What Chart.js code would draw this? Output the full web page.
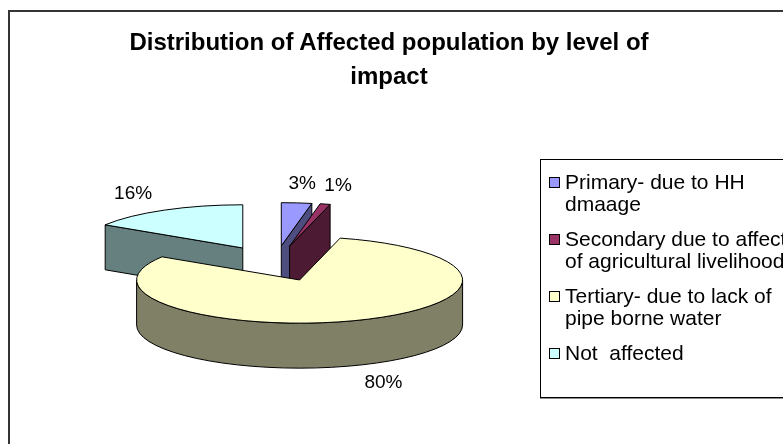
<!DOCTYPE html>
<html>
<head>
<meta charset="utf-8">
<script src="https://cdn.jsdelivr.net/npm/chart.js@4.4.1/dist/chart.umd.min.js"></script>
<style>
  body { margin: 0; width: 783px; height: 444px; overflow: hidden; background: #fff;
         font-family: Arial, "Liberation Sans", sans-serif; color: #000; }
  #frame { position: absolute; left: 8px; top: 10px; width: 820px; height: 480px;
           border: 2px solid #353535; box-sizing: border-box; }
  #pie { position: absolute; left: 0; top: 0; }
  #title { position: absolute; left: 0; top: 25px; width: 778px; text-align: center;
           font-weight: bold; font-size: 24px; line-height: 34px; }
  #legend { position: absolute; left: 540px; top: 159px; width: 300px; height: 237px;
            border: 1px solid #000; box-shadow: 0 1px 0 #8c8c8c; background: #fff; }
  .item { position: absolute; left: 0; font-size: 21px; line-height: 22px; }
  .item i { position: absolute; left: 8px; top: 6px; width: 9px; height: 9px;
            border: 1px solid #000; }
  .item span { position: absolute; left: 24px; top: 0; width: 240px; white-space: pre-wrap; }
</style>
</head>
<body>
<div id="frame"></div>
<canvas id="pie" width="783" height="444"></canvas>
<div id="title"></div>
<div id="legend"></div>
<script>
// chart values
const chartTitle = ['Distribution of Affected population by level of', 'impact'];
const categories = [
  'Primary- due to HH dmaage',
  'Secondary due to affect of agricultural livelihood',
  'Tertiary- due to lack of pipe borne water',
  'Not  affected'
];
const shares = [3, 1, 80, 16];   // percent of affected population

const topColors = ['#9999FF', '#993366', '#FFFFCC', '#CCFFFF'];
const sideColors = ['#4D4D80', '#4D1A33', '#808066', '#668080'];

// title + legend
document.getElementById('title').innerHTML = chartTitle.join('<br>');
const legendTops = [11, 68, 125, 182];
const legend = document.getElementById('legend');
categories.forEach((name, i) => {
  const el = document.createElement('div');
  el.className = 'item';
  el.style.top = legendTops[i] + 'px';
  el.innerHTML = '<i style="background:' + topColors[i] + '"></i><span></span>';
  el.querySelector('span').textContent = name;
  legend.appendChild(el);
});

// draws the pie as an exploded 3D disc, using the arcs Chart.js laid out
const pie3d = {
  id: 'pie3d',
  beforeDatasetsDraw(chart, args, opts) {
    const ctx = chart.ctx;
    const ds = chart.data.datasets[0];
    const arcs = chart.getDatasetMeta(0).data;
    const total = ds.data.reduce((a, b) => a + b, 0);
    const rx = arcs[0].outerRadius;
    const ry = rx * opts.tilt;
    const depth = rx * opts.depth;
    const boom = rx * opts.explode;

    const slices = arcs.map((a, i) => {
      const mid = (a.startAngle + a.endAngle) / 2;
      return {
        i, s: a.startAngle, e: a.endAngle, mid,
        x: a.x + Math.cos(mid) * boom,
        y: a.y + Math.sin(mid) * boom * opts.tilt
      };
    });

    ctx.save();
    ctx.lineWidth = 1;
    ctx.strokeStyle = '#000';
    ctx.lineJoin = 'round';

    const face = (sl, t) => {
      const ox = sl.x + rx * Math.cos(t), oy = sl.y + ry * Math.sin(t);
      ctx.beginPath();
      ctx.moveTo(sl.x, sl.y);
      ctx.lineTo(ox, oy);
      ctx.lineTo(ox, oy + depth);
      ctx.lineTo(sl.x, sl.y + depth);
      ctx.closePath();
      ctx.fillStyle = opts.sideColors[sl.i];
      ctx.fill();
      ctx.stroke();
    };

    // back slices first
    slices.slice().sort((p, q) => Math.sin(p.mid) - Math.sin(q.mid)).forEach(sl => {
      if (Math.cos(sl.s) < -0.01) face(sl, sl.s);
      if (Math.cos(sl.e) > 0.01) face(sl, sl.e);

      const a = Math.max(sl.s, 0), b = Math.min(sl.e, Math.PI);
      if (b > a) {
        ctx.beginPath();
        ctx.ellipse(sl.x, sl.y, rx, ry, 0, a, b);
        ctx.lineTo(sl.x + rx * Math.cos(b), sl.y + ry * Math.sin(b) + depth);
        ctx.ellipse(sl.x, sl.y + depth, rx, ry, 0, b, a, true);
        ctx.closePath();
        ctx.fillStyle = opts.sideColors[sl.i];
        ctx.fill();
        ctx.stroke();
      }

      ctx.beginPath();
      ctx.moveTo(sl.x, sl.y);
      ctx.ellipse(sl.x, sl.y, rx, ry, 0, sl.s, sl.e);
      ctx.closePath();
      ctx.fillStyle = ds.backgroundColor[sl.i];
      ctx.fill();
      ctx.stroke();
    });

    // percentage labels outside each slice
    ctx.fillStyle = '#000';
    ctx.font = opts.labelFont;
    ctx.textAlign = 'center';
    ctx.textBaseline = 'middle';
    slices.forEach(sl => {
      const txt = Math.round(ds.data[sl.i] / total * 100) + '%';
      const w = ctx.measureText(txt).width, h = 14;
      const c = Math.cos(sl.mid), s = Math.sin(sl.mid);
      const ax = sl.x + c * rx * opts.labelRx;
      const ay = sl.y + s * ry * opts.labelRy + (s > 0 ? depth : 0);
      ctx.fillText(txt, ax + c * w / 2, ay + s * h / 2);
    });
    ctx.restore();
    return false;
  }
};

new Chart(document.getElementById('pie'), {
  type: 'pie',
  data: {
    labels: categories,
    datasets: [{
      data: shares,
      backgroundColor: topColors,
      borderColor: '#000',
      borderWidth: 1,
      radius: 163
    }]
  },
  options: {
    responsive: false,
    animation: false,
    events: [],
    layout: { padding: { left: 100, right: 333, top: 100, bottom: 17 } },
    plugins: {
      legend: { display: false },
      title: { display: false },
      tooltip: { enabled: false },
      pie3d: {
        tilt: 0.265,
        depth: 0.276,
        explode: 0.41,
        labelRx: 1.28,
        labelRy: 1.28,
        labelFont: '19px Arial, "Liberation Sans", sans-serif',
        sideColors: sideColors
      }
    }
  },
  plugins: [pie3d]
});
</script>
</body>
</html>
